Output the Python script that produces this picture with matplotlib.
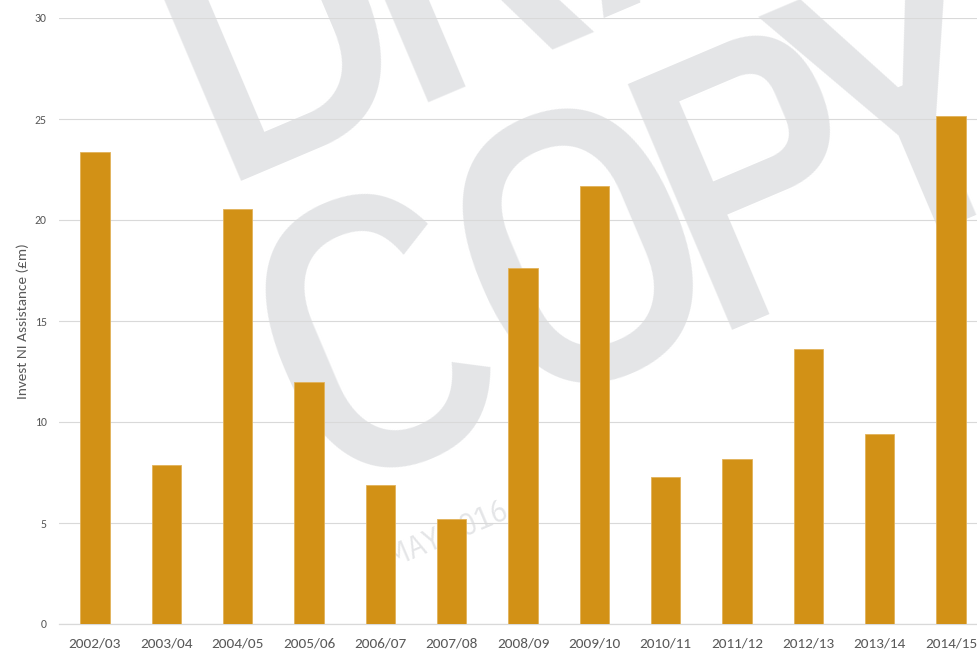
import matplotlib
matplotlib.use("Agg")
import matplotlib.pyplot as plt
import numpy as np

# Invest NI assistance by financial year (£m)
years = ['2002/03', '2003/04', '2004/05', '2005/06', '2006/07', '2007/08', '2008/09',
         '2009/10', '2010/11', '2011/12', '2012/13', '2013/14', '2014/15']
assistance = [23.37, 7.87, 20.55, 11.98, 6.88, 5.20, 17.63,
              21.68, 7.28, 8.17, 13.61, 9.41, 25.15]
yticks = [0, 5, 10, 15, 20, 25, 30]

bar_color = '#D29116'
text_color = '#595959'
grid_color = '#D9D9D9'
mark_color = '#E4E5E7'

W, H = 977, 651
fig = plt.figure(figsize=(W / 100, H / 100), dpi=100)
ax = fig.add_axes([59.3 / W, 1 - 624 / H, 927.4 / W, 606 / H])
ax.patch.set_visible(False)

# draft watermark sits behind the axes, set letter by letter along a 23 deg baseline
angle = np.radians(23)
ux, uy = np.cos(angle), -np.sin(angle)      # along the baseline (pixels, y down)
vx, vy = -np.sin(angle), -np.cos(angle)     # towards the line above
bx, by = 406, 456                           # baseline point under the C

wm = dict(color=mark_color, rotation=23, rotation_mode='anchor',
          family=['IBM Plex Sans Condensed', 'Roboto', 'DejaVu Sans'],
          zorder=-1, transform=fig.transFigure)

def mark_line(word, offsets, lift):
    for ch, u in zip(word, offsets):
        xp = bx + u * ux + lift * vx
        yp = by + u * uy + lift * vy
        fig.text(xp / W, 1 - yp / H, ch, fontsize=276, fontweight='medium',
                 ha='center', va='baseline', **wm)

mark_line('DRAFT', [47, 245, 460, 620, 760], 329)
mark_line('COPY', [15, 241, 431, 599], 0)
fig.text(510 / W, 1 - 518 / H, 'MAY 2016', fontsize=22, ha='right', va='baseline', **wm)

x = np.arange(len(years))
ax.bar(x, assistance, width=0.41, color=bar_color, edgecolor='#E2B25A',
       linewidth=0.6, zorder=3)

ax.set_xlim(-0.5, len(years) - 0.5)
ax.set_ylim(0, 30)
ax.set_yticks(yticks)
ax.set_xticks(x)
ax.set_xticklabels(years)
ax.yaxis.grid(True, color=grid_color, linewidth=0.8, zorder=1)
ax.set_axisbelow(True)
for s in ['top', 'right', 'left']:
    ax.spines[s].set_visible(False)
ax.spines['bottom'].set_color(grid_color)
ax.spines['bottom'].set_linewidth(0.9)

font = ['Carlito', 'Liberation Sans', 'DejaVu Sans']
ax.tick_params(axis='both', length=0)
ax.tick_params(axis='y', pad=9, labelsize=8.5, labelcolor=text_color)
ax.tick_params(axis='x', pad=10, labelsize=11, labelcolor=text_color)
for lab in ax.get_xticklabels() + ax.get_yticklabels():
    lab.set_family(font)
ax.set_ylabel('Invest NI Assistance (£m)', fontsize=11, color=text_color,
              family=font, labelpad=4)

fig.savefig('out.png', dpi=100)
